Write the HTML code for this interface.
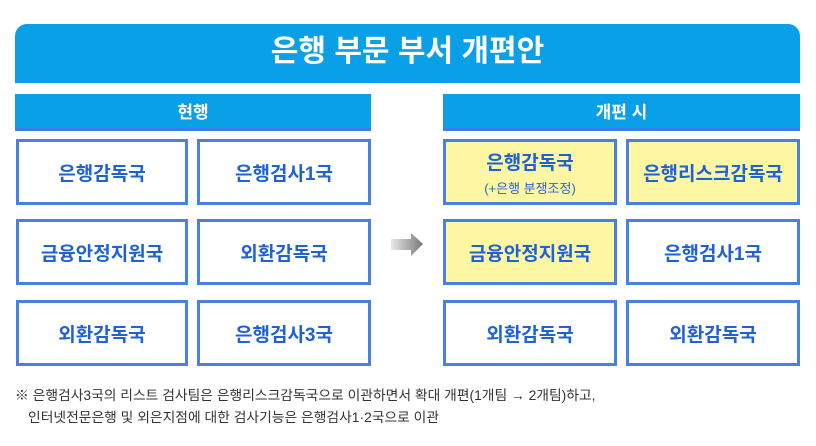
<!DOCTYPE html>
<html><head><meta charset="utf-8"><style>
body{margin:0;width:816px;height:446px;background:#fff;position:relative;overflow:hidden;font-family:"Liberation Sans","Noto Sans CJK KR",sans-serif}
.a{position:absolute;box-sizing:border-box}
.hdr{left:15px;top:24px;width:785px;height:59px;background:#0aa0e8;border-radius:12px 12px 0 0;color:#fff;font-size:30px;font-weight:bold;text-align:center;line-height:56px}
.bar{top:94px;height:37px;background:#0aa0e8;color:#fff;font-size:17px;font-weight:bold;text-align:center;line-height:37px;border-bottom:3px solid #3d7fe0}
.b{border:3px solid #4a80e2;background:#fff;color:#1f62d6;font-size:19px;font-weight:bold;display:flex;flex-direction:column;align-items:center;justify-content:center}
.y{background:#fdf7a3}
.s{font-size:13px;font-weight:normal;color:#2466d6;margin-top:3px}
.n{left:15px;font-size:13.8px;color:#333;white-space:nowrap}
</style></head><body>
<div class="a hdr">은행 부문 부서 개편안</div>
<div class="a bar" style="left:15px;width:356px">현행</div>
<div class="a bar" style="left:443px;width:357px">개편 시</div>

<div class="a b" style="left:16px;top:139px;width:172px;height:66px">은행감독국</div>
<div class="a b" style="left:197px;top:139px;width:174px;height:66px">은행검사1국</div>
<div class="a b" style="left:16px;top:219px;width:172px;height:66px">금융안정지원국</div>
<div class="a b" style="left:197px;top:219px;width:174px;height:66px">외환감독국</div>
<div class="a b" style="left:16px;top:300px;width:172px;height:66px">외환감독국</div>
<div class="a b" style="left:197px;top:300px;width:174px;height:66px">은행검사3국</div>

<div class="a b y" style="left:443px;top:139px;width:174px;height:66px">은행감독국<div class="s">(+은행 분쟁조정)</div></div>
<div class="a b y" style="left:626px;top:139px;width:174px;height:66px">은행리스크감독국</div>
<div class="a b y" style="left:443px;top:219px;width:174px;height:66px">금융안정지원국</div>
<div class="a b" style="left:626px;top:219px;width:174px;height:66px">은행검사1국</div>
<div class="a b" style="left:443px;top:300px;width:174px;height:66px">외환감독국</div>
<div class="a b" style="left:626px;top:300px;width:174px;height:66px">외환감독국</div>

<svg class="a" style="left:390px;top:232px" width="36" height="26"><defs><linearGradient id="g"><stop offset="0" stop-color="#e8e8e8"/><stop offset="1" stop-color="#777"/></linearGradient></defs><polygon points="1,7 21,7 21,1 33,12 21,24 21,18 1,18" fill="url(#g)"/></svg>

<div class="a n" style="top:384px">※ 은행검사3국의 리스트 검사팀은 은행리스크감독국으로 이관하면서 확대 개편(1개팀 → 2개팀)하고,</div>
<div class="a n" style="top:406px;left:28px">인터넷전문은행 및 외은지점에 대한 검사기능은 은행검사1·2국으로 이관</div>
</body></html>
